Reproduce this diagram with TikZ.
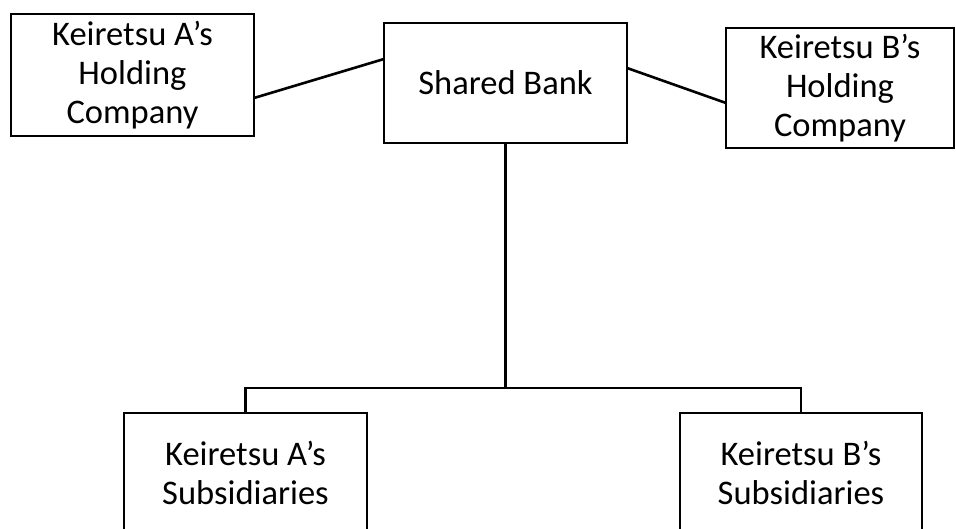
\documentclass[tikz,border=0pt]{standalone}
\usepackage{fontspec}
\setmainfont{Carlito}
\begin{document}
\begin{tikzpicture}[x=1pt,y=-1pt,
  box/.style={draw=black,line width=2.6pt,inner sep=0pt,outer sep=0pt,align=center,
    font=\fontsize{34.5}{39}\selectfont},
  link/.style={line width=2.6pt}]
\useasboundingbox (0,0) rectangle (956,529);
\node[box,minimum width=243pt,minimum height=122pt] (ah) at (132.5,75) {Keiretsu A’s\\Holding\\Company};
\node[box,minimum width=243pt,minimum height=120pt] (sb) at (505.5,83) {Shared Bank};
\node[box,minimum width=228pt,minimum height=120pt] (bh) at (840,88) {Keiretsu B’s\\Holding\\Company};
\node[box,minimum width=243pt,minimum height=120pt] (as) at (245.5,473) {Keiretsu A’s\\Subsidiaries};
\node[box,minimum width=242pt,minimum height=120pt] (bs) at (801,473) {Keiretsu B’s\\Subsidiaries};
\coordinate (j) at (505.5,388);
\draw[link] ([yshift=-23pt]ah.east) -- ([yshift=24pt]sb.west);
\draw[link] ([yshift=15pt]sb.east) -- ([yshift=-15pt]bh.west);
\draw[link] (sb.south) -- (j);
\draw[link] (as.north) |- (j) -| (bs.north);
\end{tikzpicture}
\end{document}
